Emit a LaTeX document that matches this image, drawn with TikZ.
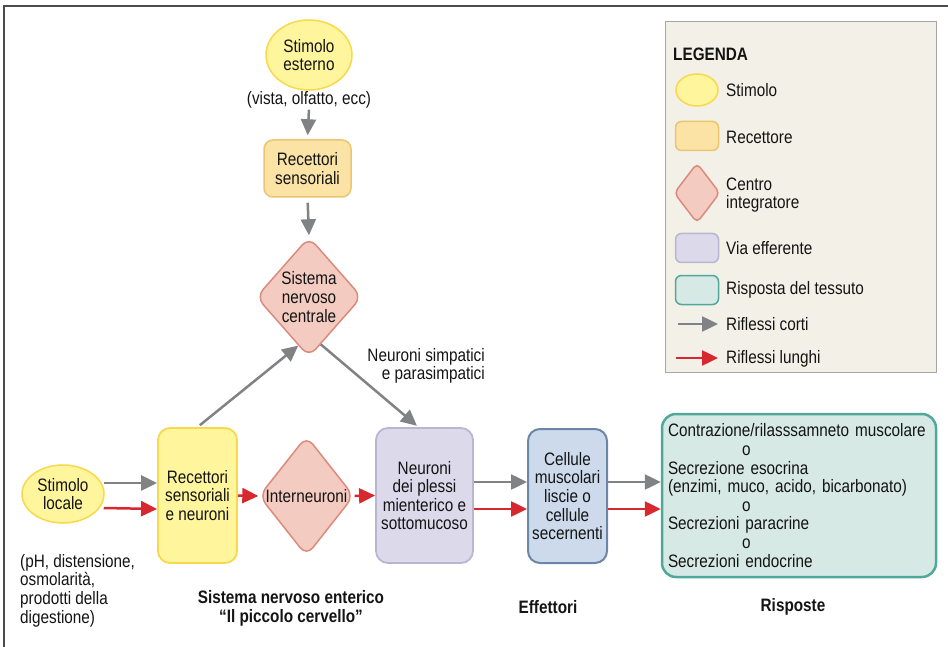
\documentclass[tikz,border=0pt]{standalone}
\usepackage{fontspec}
\setmainfont[FakeStretch=0.85]{Liberation Sans}
\usetikzlibrary{shapes.geometric,arrows.meta,calc}
\definecolor{stimF}{HTML}{FFF59C}
\definecolor{stimD}{HTML}{F8D84C}
\definecolor{recF}{HTML}{FBE3A6}
\definecolor{recD}{HTML}{EBC66F}
\definecolor{diaF}{HTML}{F4CBC0}
\definecolor{diaD}{HTML}{DB8A7D}
\definecolor{effF}{HTML}{DCD9EA}
\definecolor{effD}{HTML}{BAB6D0}
\definecolor{celF}{HTML}{CCDAEC}
\definecolor{celD}{HTML}{6E86A5}
\definecolor{rspF}{HTML}{D7E9E5}
\definecolor{rspD}{HTML}{4FA99A}
\definecolor{legF}{HTML}{F3F1E7}
\definecolor{arrG}{HTML}{808285}
\definecolor{arrR}{HTML}{D7282F}
\definecolor{txt}{HTML}{141414}
\begin{document}
\begin{tikzpicture}[x=1pt,y=-1pt,
  every node/.style={font=\fontsize{18}{18.6}\selectfont, inner sep=0pt, text=txt},
  stim/.style={ellipse, draw=stimD, fill=stimF, line width=1.5pt, align=center},
  recbox/.style={rectangle, rounded corners=9pt, draw=recD, fill=recF, line width=1.5pt, align=center},
  ensbox/.style={rectangle, rounded corners=12pt, draw=stimD, fill=stimF, line width=1.8pt, align=center},
  dia/.style={diamond, rounded corners=10pt, draw=diaD, fill=diaF, line width=1.5pt, align=center},
  effbox/.style={rectangle, rounded corners=12pt, draw=effD, fill=effF, line width=1.8pt, align=center},
  celbox/.style={rectangle, rounded corners=12pt, draw=celD, fill=celF, line width=2pt, align=center},
  rspbox/.style={rectangle, rounded corners=14pt, draw=rspD, fill=rspF, line width=2.5pt},
  gar/.style={draw=arrG, line width=2.5pt, -{Triangle[length=16pt,width=15pt]}},
  rar/.style={draw=arrR, line width=2.5pt, -{Triangle[length=16pt,width=15pt]}},
  lbl/.style={font=\fontsize{18}{18.6}\selectfont\bfseries, align=center}
]
\useasboundingbox (0,0) rectangle (948,647);
% frame
\draw[draw=black!70, line width=1.5pt] (948,6) -- (4,6) -- (4,647);

% legend
\draw[fill=legF, draw=black!35, line width=1pt] (665,22) rectangle (936,372);
\node[anchor=west, font=\fontsize{18}{18.6}\selectfont\bfseries] (legt) at (673,54) {LEGENDA};
\node[stim, minimum width=42pt, minimum height=32pt] (l1) at (697,90) {};
\node[anchor=west] (l1t) at (726,90) {Stimolo};
\node[recbox, rounded corners=6pt, minimum width=43pt, minimum height=29pt] (l2) at (697,136) {};
\node[anchor=west] (l2t) at (726,137) {Recettore};
\node[dia, rounded corners=5pt, minimum width=46pt, minimum height=60pt] (l3) at (697,193) {};
\node[anchor=west, align=left] (l3t) at (726,195) {Centro\\integratore};
\node[effbox, rounded corners=6pt, line width=1.5pt, minimum width=43pt, minimum height=29pt] (l4) at (697,248) {};
\node[anchor=west] (l4t) at (726,248) {Via efferente};
\node[rspbox, rounded corners=6pt, line width=1.5pt, minimum width=43pt, minimum height=29pt] (l5) at (697,290) {};
\node[anchor=west] (l5t) at (726,290) {Risposta del tessuto};
\coordinate (g1) at (678,324);
\coordinate (g2) at (718,324);
\draw[gar] (g1) -- (g2);
\node[anchor=west] (l6t) at (726,324) {Riflessi corti};
\coordinate (r1) at (676,358);
\coordinate (r2) at (718,358);
\draw[rar] (r1) -- (r2);
\node[anchor=west] (l7t) at (726,359) {Riflessi lunghi};

% top chain
\node[stim, minimum width=86pt, minimum height=70pt] (se) at (309,55) {Stimolo\\esterno};
\node (vista) at (309,100) {(vista, olfatto, ecc)};
\node[recbox, minimum width=87pt, minimum height=57pt] (recs) at (307.5,168.5) {Recettori\\sensoriali};
\node[dia, minimum width=96pt, minimum height=120pt] (snc) at (309,297) {Sistema\\nervoso\\centrale};
\draw[gar, shorten <=1pt, shorten >=4pt] (vista.south) -- (recs.north);
\draw[gar, shorten <=5pt, shorten >=1pt] (recs.south) -- (snc.north);

% bottom chain
\node[stim, minimum width=82pt, minimum height=58pt] (sl) at (63,494) {Stimolo\\locale};
\node[anchor=west, align=left] (sldesc) at (20,590.5) {(pH, distensione,\\osmolarità,\\prodotti della\\digestione)};
\node[ensbox, minimum width=79pt, minimum height=135pt] (ens) at (197.5,495.5) {Recettori\\sensoriali\\e neuroni};
\node[dia, minimum width=91pt, minimum height=120pt] (inter) at (306.5,496) {Interneuroni};
\node[effbox, minimum width=97pt, minimum height=135pt] (neur) at (424.5,495.5) {Neuroni\\dei plessi\\mienterico e\\sottomucoso};
\node[celbox, minimum width=79pt, minimum height=134pt] (cel) at (567.5,496) {Cellule\\muscolari\\liscie o\\cellule\\secernenti};
\node[rspbox, minimum width=274pt, minimum height=163pt, text width=262pt, align=left] (rsp) at (799,495.5) {Contrazione/rilasssamneto muscolare\\\hspace*{74pt}o\\Secrezione esocrina\\(enzimi, muco, acido, bicarbonato)\\\hspace*{74pt}o\\Secrezioni paracrine\\\hspace*{74pt}o\\Secrezioni endocrine};

\node[anchor=east, align=right] (simp) at (485,366) {Neuroni simpatici\\e parasimpatici};

% connectors
\coordinate (sncL) at ($(snc.south)!0.2!(snc.west)$);
\coordinate (sncR) at ($(snc.south)!0.22!(snc.east)$);
\coordinate (neurT) at ($(neur.north)+(-6,0)$);
\draw[gar, shorten <=3pt] (ens.north) -- (sncL);
\draw[gar, shorten >=2pt] (sncR) -- (neurT);

\draw[gar] ($(sl.east)+(-1,-11)$) -- ($(ens.west)+(0,-12.5)$);
\draw[rar] ($(sl.east)+(-1,14)$) -- ($(ens.west)+(0,13.5)$);
\draw[rar] (ens.east) -- (inter.west);
\draw[rar] (inter.east) -- (neur.west);
\draw[gar] ($(neur.east)+(0,-13.5)$) -- ($(cel.west)+(0,-14)$);
\draw[rar] ($(neur.east)+(0,13.5)$) -- ($(cel.west)+(0,13)$);
\draw[gar] ($(cel.east)+(0,-14)$) -- ($(rsp.west)+(0,-13.5)$);
\draw[rar] ($(cel.east)+(0,13)$) -- ($(rsp.west)+(0,13.5)$);

% bottom labels
\node[lbl] (l_sne) at (291,608.5) {Sistema nervoso enterico\\“Il piccolo cervello”};
\node[lbl] (l_eff) at (548,607) {Effettori};
\node[lbl] (l_rsp) at (793,607) {Risposte};
\end{tikzpicture}
\end{document}
